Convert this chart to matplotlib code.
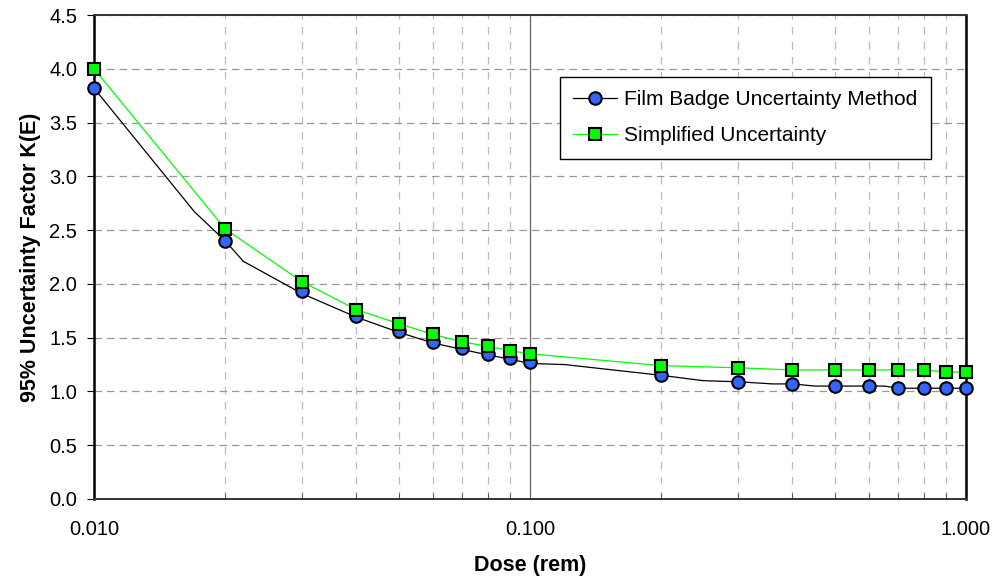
import matplotlib
matplotlib.use("Agg")
from matplotlib import pyplot as plt
from matplotlib.lines import Line2D
from matplotlib.ticker import FixedLocator, NullFormatter

plt.rcParams["font.family"] = ["Liberation Sans", "DejaVu Sans"]

# marker points
dose = [0.01, 0.02, 0.03, 0.04, 0.05, 0.06, 0.07, 0.08, 0.09, 0.1,
        0.2, 0.3, 0.4, 0.5, 0.6, 0.7, 0.8, 0.9, 1.0]
film_badge = [3.82, 2.40, 1.93, 1.70, 1.56, 1.46, 1.40, 1.35, 1.31, 1.27,
              1.15, 1.09, 1.07, 1.05, 1.05, 1.03, 1.03, 1.03, 1.03]
simplified = [4.00, 2.51, 2.02, 1.76, 1.63, 1.53, 1.46, 1.42, 1.38, 1.35,
              1.24, 1.22, 1.20, 1.20, 1.20, 1.20, 1.20, 1.18, 1.18]

# film badge curve is computed at more doses than it is marked
curve_dose = [0.01, 0.017, 0.02, 0.022, 0.03, 0.04, 0.05, 0.06, 0.07, 0.08,
              0.09, 0.1, 0.12, 0.2, 0.25, 0.3, 0.36, 0.4, 0.45, 0.5, 0.6,
              0.65, 0.7, 0.8, 0.9, 1.0]
curve_film = [3.82, 2.67, 2.40, 2.21, 1.91, 1.69, 1.55, 1.45, 1.39, 1.34,
              1.30, 1.26, 1.25, 1.15, 1.10, 1.09, 1.07, 1.07, 1.05, 1.05,
              1.05, 1.05, 1.03, 1.03, 1.03, 1.03]

fig = plt.figure(figsize=(9.97, 5.83), dpi=100)
ax = fig.add_axes([94 / 997, 1 - 499 / 583, 872 / 997, 484 / 583])

ax.plot(curve_dose, curve_film, color="black", lw=0.9, zorder=3)
ax.plot(dose, simplified, color="#00ff00", lw=0.9, zorder=3)
ax.plot(dose, film_badge, ls="none", marker="o", ms=9, mfc="#3366ff",
        mec="black", mew=1.5, zorder=4, clip_on=False)
ax.plot(dose, simplified, ls="none", marker="s", ms=9, mfc="#00ff00",
        mec="black", mew=1.5, zorder=5, clip_on=False)

ax.set_xscale("log")
ax.set_xlim(0.01, 1.0)
ax.set_ylim(0, 4.5)
ax.set_xticks([0.01, 0.1, 1.0])
ax.set_xticklabels(["0.010", "0.100", "1.000"])
ax.xaxis.set_minor_locator(FixedLocator([k * m for m in (0.01, 0.1) for k in range(2, 10)]))
ax.xaxis.set_minor_formatter(NullFormatter())
ax.set_yticks([i * 0.5 for i in range(10)])
ax.set_yticklabels(["%.1f" % (i * 0.5) for i in range(10)])

ax.tick_params(axis="x", which="major", length=0, pad=15, labelsize=14.5)
ax.tick_params(axis="x", which="minor", direction="in", length=4, color="#444444")
ax.tick_params(axis="y", direction="out", length=5, labelsize=14.5, pad=7)

ax.grid(True, axis="y", which="major", color="#999999", ls=(0, (6, 4)), lw=0.9)
ax.grid(True, axis="x", which="minor", color="#bbbbbb", ls=(0, (6, 6)), lw=0.9)
ax.grid(True, axis="x", which="major", color="#666666", ls="-", lw=0.9)

for side in ["left", "right"]:
    ax.spines[side].set_linewidth(1.8)
    ax.spines[side].set_color("black")
for side in ["top", "bottom"]:
    ax.spines[side].set_linewidth(1.4)
    ax.spines[side].set_color("#333333")

ax.set_xlabel("Dose (rem)", fontsize=15.5, fontweight="bold", labelpad=12)
ax.set_ylabel("95% Uncertainty Factor K(E)", fontsize=15.5, fontweight="bold", labelpad=6)

handles = [
    Line2D([], [], color="black", lw=0.9, marker="o", ms=9, mfc="#3366ff", mec="black", mew=1.5),
    Line2D([], [], color="#00ff00", lw=0.9, marker="s", ms=8, mfc="#00ff00", mec="black", mew=1.5),
]
leg = ax.legend(handles, ["Film Badge Uncertainty Method", "Simplified Uncertainty"],
                loc="upper left", bbox_to_anchor=(0.534, 0.872), fontsize=15,
                frameon=True, fancybox=False, edgecolor="black", framealpha=1,
                handlelength=2.1, borderpad=0.65, labelspacing=0.8, handletextpad=0.35,
                borderaxespad=0)
leg.get_frame().set_linewidth(1.0)

fig.savefig("out.png", dpi=100)
